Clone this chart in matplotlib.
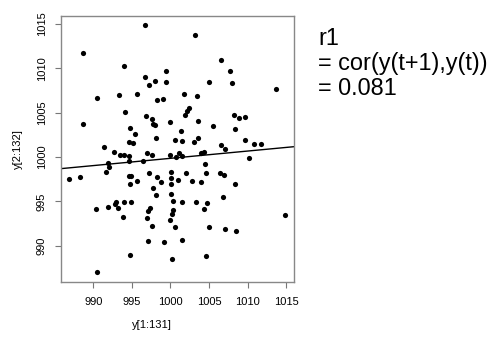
import matplotlib
matplotlib.use("Agg")
import matplotlib.pyplot as plt
import numpy as np

plt.rcParams['font.family'] = ['Liberation Sans', 'DejaVu Sans']

# y(t) values (x axis) and y(t+1) values (y axis)
y_t = [988.67, 993.98, 990.44, 993.37, 995.62, 994.14, 988.67, 994.71, 995.40, 994.66,
       995.10, 991.35, 996.73, 1003.13, 999.45, 996.73, 998.03, 999.41, 997.21, 1004.98,
       1001.75, 1003.43, 998.21, 999.03, 1002.43, 1002.10, 1001.91, 996.79, 997.64, 997.73,
       998.03, 999.89, 1003.52, 1005.46, 1001.36, 998.08, 1000.54, 1001.49, 1003.00, 1003.60,
       1006.50, 1007.66, 1007.92, 1013.70, 1008.26, 1008.91, 1009.65, 1008.39, 1009.61, 1010.85,
       1011.68, 1006.54, 1007.06, 992.72, 993.42, 994.01, 994.58, 994.62, 991.94, 992.03,
       991.61, 986.81, 988.24, 994.66, 994.88, 995.62, 994.71, 992.94, 992.85, 993.24,
       993.94, 994.84, 990.31, 991.86, 993.81, 994.75, 990.48, 996.92, 997.56, 996.48,
       997.25, 998.21, 998.73, 997.77, 998.08, 1000.10, 1000.10, 1000.02, 1001.01, 999.89,
       1000.71, 1001.10, 1001.53, 1000.02, 1000.36, 1000.36, 1000.15, 999.93, 1000.54, 997.34,
       997.08, 996.99, 997.56, 997.04, 999.19, 1000.19, 1003.91, 1004.34, 1004.47, 1004.59,
       1002.00, 1002.82, 1003.95, 1001.53, 1003.30, 1004.69, 1004.30, 1001.53, 1004.98, 1004.63,
       1010.16, 1006.41, 1006.89, 1008.35, 1006.84, 1014.79, 1007.06, 1008.52]
y_t1 = [1011.76, 1010.22, 1006.65, 1006.95, 1007.07, 1005.11, 1003.69, 1003.30, 1002.56, 1001.72,
        1001.61, 1001.13, 1014.88, 1013.78, 1009.66, 1009.05, 1008.57, 1008.42, 1008.08, 1008.42,
        1007.07, 1006.87, 1006.46, 1006.54, 1005.56, 1005.18, 1004.70, 1004.62, 1004.32, 1003.75,
        1003.61, 1003.98, 1004.02, 1003.46, 1002.93, 1002.11, 1001.95, 1001.80, 1001.72, 1002.18,
        1010.97, 1009.66, 1008.34, 1007.70, 1004.77, 1004.43, 1004.51, 1003.16, 1001.92, 1001.50,
        1001.43, 1001.35, 1000.90, 1000.56, 1000.26, 1000.26, 1000.11, 999.55, 999.36, 998.91,
        998.28, 997.49, 997.71, 997.82, 997.89, 997.26, 996.92, 994.93, 994.74, 994.22,
        994.89, 994.89, 994.14, 994.36, 993.24, 988.96, 987.07, 1000.42, 1000.19, 999.52,
        998.16, 997.75, 997.22, 996.54, 995.75, 998.28, 997.67, 996.99, 997.41, 1000.23,
        1000.00, 1000.42, 1000.08, 995.83, 995.04, 994.06, 993.58, 992.93, 992.11, 994.22,
        993.95, 993.16, 992.22, 990.57, 990.45, 988.54, 1000.48, 1000.60, 999.18, 998.20,
        998.20, 997.26, 997.18, 994.93, 994.93, 994.85, 994.14, 990.68, 992.11, 988.88,
        999.92, 998.23, 997.97, 996.92, 995.53, 993.43, 991.89, 991.63]

# regression line
fit_at_1000 = 999.85
fit_slope = 0.082

x_ticks = [990, 995, 1000, 1005, 1010, 1015]
y_ticks = [990, 995, 1000, 1005, 1010, 1015]

annot_lines = ["r1", "= cor(y(t+1),y(t))", "= 0.081"]

W, H = 496, 339
fig = plt.figure(figsize=(W / 100, H / 100), dpi=100)
L, R, T, B = 61, 294, 15.7, 281.7
ax = fig.add_axes([L / W, 1 - B / H, (R - L) / W, (B - T) / H])

ax.scatter(y_t, y_t1, s=14, color='black', linewidths=0, zorder=3)
ax.axline((1000, fit_at_1000), slope=fit_slope, color='black', linewidth=1.0, zorder=2)

ax.set_xlim(985.82, 1016.0)
ax.set_ylim(985.94, 1015.93)
ax.set_xticks(x_ticks)
ax.set_yticks(y_ticks)
ax.set_xticklabels([str(v) for v in x_ticks], fontsize=8)
ax.set_yticklabels([str(v) for v in y_ticks], fontsize=8, rotation=90, va='center')
ax.tick_params(axis='x', length=4.3, width=0.8, color='#777777', pad=7)
ax.tick_params(axis='y', length=4.3, width=0.8, color='#777777', pad=6)
for sp in ax.spines.values():
    sp.set_color('#888888')
    sp.set_linewidth(1.0)

fig.text(152 / W, 1 - 325 / H, "y[1:131]", ha='center', va='center', fontsize=8)
fig.text(18 / W, 1 - 148.7 / H, "y[2:132]", ha='center', va='center', fontsize=8, rotation=90)

for i, s in enumerate(annot_lines):
    fig.text(318 / W, 1 - (45 + 25 * i) / H, s, ha='left', va='baseline', fontsize=16.9)

fig.savefig("out.png", dpi=100)
